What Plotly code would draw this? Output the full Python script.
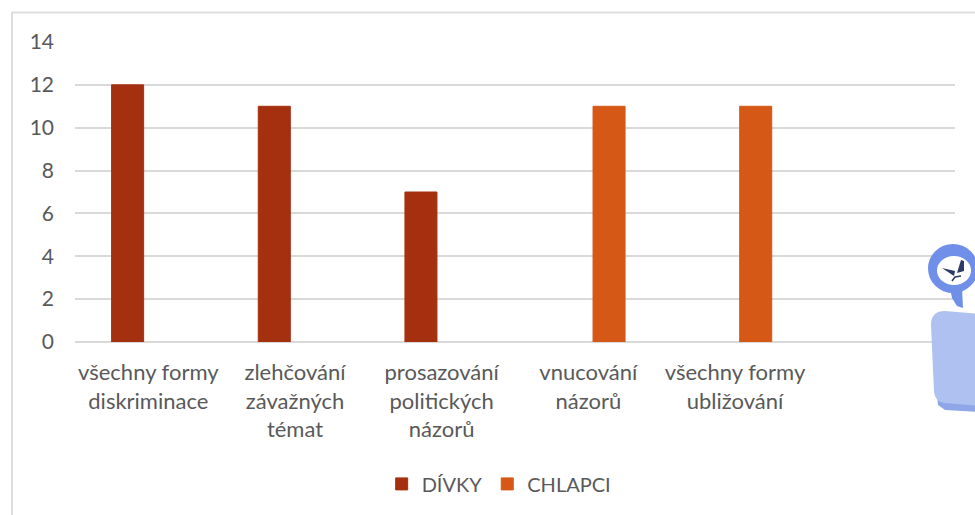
import plotly.graph_objects as go

categories = ["všechny formy<br>diskriminace", "zlehčování<br>závažných<br>témat",
              "prosazování<br>politických<br>názorů", "vnucování<br>názorů",
              "všechny formy<br>ubližování", " "]
divky = [12, 11, 7, None, None, None]
chlapci = [None, None, None, 11, 11, None]
y_ticks = [0, 2, 4, 6, 8, 10, 12, 14]

TEXT = "#595959"
FONT = "Lato"
W, H = 975, 515
L, R, T, B = 75, 955, 42, 342

def px(x): return (x - L) / (R - L)
def py(y): return (B - y) / (B - T)
def P(pts, close=True):
    s = "M" + " L".join(f"{px(x):.5f},{py(y):.5f}" for x, y in pts)
    return s + (" Z" if close else "")

fig = go.Figure()
fig.add_bar(name="DÍVKY", x=categories, y=divky,
            marker=dict(color="#A5300F", line=dict(color="#A5300F", width=1)))
fig.add_bar(name="CHLAPCI", x=categories, y=chlapci,
            marker=dict(color="#D55816", line=dict(color="#D55816", width=1)))

def paper_shape(**kw):
    return dict(xref="paper", yref="paper", **kw)

def rounded_body():
    return (f"M{px(931):.5f},{py(325):.5f} "
            f"Q{px(931):.5f},{py(311):.5f} {px(945):.5f},{py(311):.5f} "
            f"L{px(980):.5f},{py(314):.5f} L{px(980):.5f},{py(406):.5f} "
            f"L{px(945):.5f},{py(403):.5f} Q{px(935):.5f},{py(402):.5f} {px(934):.5f},{py(392):.5f} Z")

DARK = "#2B3A67"
shapes = [
    # chart frame
    paper_shape(type="line", x0=px(12), x1=px(975), y0=py(12.5), y1=py(12.5),
                line=dict(color="#DEDEDE", width=2)),
    paper_shape(type="line", x0=px(12), x1=px(12), y0=py(12), y1=py(515),
                line=dict(color="#DEDEDE", width=2)),
    # decorative figure at right edge
    paper_shape(type="path", fillcolor="#8FA6E8", line_width=0,
                path=P([(937, 395), (980, 400), (980, 412), (945, 410), (938, 405)])),
    paper_shape(type="path", fillcolor="#AFC1F0", line_width=0, path=rounded_body()),
    paper_shape(type="path", fillcolor="#6F8FE8", line_width=0,
                path=P([(950, 288), (952, 298), (957, 306), (963, 308), (962, 288)])),
    paper_shape(type="circle", fillcolor="#6F8FE8", line_width=0,
                x0=px(928), x1=px(978), y0=py(244), y1=py(293)),
    paper_shape(type="circle", fillcolor="#FFFFFF", line_width=0,
                x0=px(937), x1=px(971), y0=py(256), y1=py(285)),
    paper_shape(type="path", fillcolor=DARK, line_width=0,
                path=P([(942, 268), (955, 271), (954, 276)])),
    paper_shape(type="path", fillcolor=DARK, line_width=0,
                path=P([(957, 273), (961, 260), (964, 261), (964, 271)])),
    paper_shape(type="path", line=dict(color=DARK, width=1.5),
                path=P([(952, 281), (955, 277), (961, 276)], close=False)),
]

fig.update_layout(
    width=W, height=H,
    margin=dict(l=L, r=W - R, t=T, b=H - B, autoexpand=False),
    paper_bgcolor="white", plot_bgcolor="white",
    font=dict(family=FONT, size=21, color=TEXT),
    barmode="group", bargap=0.435, bargroupgap=0.227,
    showlegend=True,
    legend=dict(orientation="h", x=0.482, xanchor="center", y=-0.473, yanchor="middle",
                font=dict(family=FONT, size=20, color=TEXT), itemclick=False),
    xaxis=dict(type="category", categoryorder="array", categoryarray=categories,
               range=[-0.5, 5.5], showgrid=False, showline=False, ticks="", tickangle=0,
               ticklabelstandoff=15,
               tickfont=dict(family=FONT, size=22, color=TEXT), automargin=False),
    yaxis=dict(range=[0, 14], tickvals=y_ticks, ticktext=[str(v) for v in y_ticks],
               showgrid=True, gridcolor="#D9D9D9", gridwidth=1.5, zeroline=True,
               zerolinecolor="#D9D9D9", zerolinewidth=1.5, showline=False, ticks="",
               ticklabelstandoff=20, tickfont=dict(family=FONT, size=21, color=TEXT), automargin=False),
    shapes=shapes,
)
fig.write_html("out.html", config={"displayModeBar": False},
               post_script="document.body.style.margin='0';")
